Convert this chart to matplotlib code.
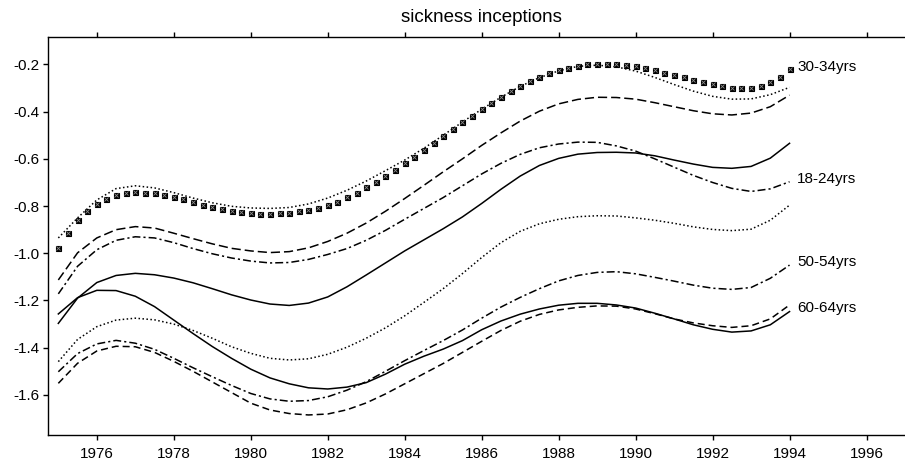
import matplotlib
matplotlib.use("Agg")
import matplotlib.pyplot as plt
import numpy as np

plt.rcParams['font.family'] = ['Liberation Sans', 'DejaVu Sans']

# quarterly points for the starred series, half-yearly for the curves
years_q = np.arange(1975.0, 1994.01, 0.25)
years_h = np.arange(1975.0, 1994.01, 0.5)

stars_30_34 = [-0.979, -0.913, -0.859, -0.821, -0.790, -0.769, -0.752, -0.743,
               -0.742, -0.743, -0.746, -0.754, -0.761, -0.771, -0.783, -0.794,
               -0.804, -0.814, -0.821, -0.826, -0.831, -0.832, -0.832, -0.831,
               -0.828, -0.822, -0.817, -0.808, -0.795, -0.781, -0.763, -0.743,
               -0.720, -0.698, -0.672, -0.646, -0.619, -0.591, -0.561, -0.531,
               -0.502, -0.475, -0.444, -0.417, -0.390, -0.363, -0.339, -0.314,
               -0.291, -0.271, -0.254, -0.237, -0.225, -0.215, -0.206, -0.199,
               -0.197, -0.197, -0.198, -0.202, -0.208, -0.216, -0.225, -0.235,
               -0.244, -0.254, -0.266, -0.275, -0.284, -0.292, -0.300, -0.301,
               -0.298, -0.291, -0.273, -0.252, -0.219]

dotted_upper = [-0.935, -0.850, -0.774, -0.726, -0.714, -0.723, -0.743, -0.766,
                -0.786, -0.801, -0.808, -0.810, -0.806, -0.791, -0.766, -0.733,
                -0.694, -0.650, -0.605, -0.555, -0.500, -0.444, -0.390, -0.339,
                -0.293, -0.256, -0.227, -0.208, -0.203, -0.210, -0.228, -0.255,
                -0.285, -0.313, -0.335, -0.347, -0.346, -0.328, -0.297]

dashed_upper = [-1.113, -0.998, -0.935, -0.900, -0.887, -0.893, -0.915, -0.938,
                -0.960, -0.979, -0.990, -0.997, -0.993, -0.977, -0.950, -0.915,
                -0.872, -0.822, -0.768, -0.712, -0.655, -0.600, -0.543, -0.490,
                -0.440, -0.398, -0.367, -0.348, -0.339, -0.340, -0.347, -0.362,
                -0.379, -0.396, -0.409, -0.414, -0.406, -0.379, -0.330]

dashdot_upper = [-1.172, -1.055, -0.985, -0.945, -0.930, -0.935, -0.955, -0.980,
                 -1.002, -1.020, -1.033, -1.041, -1.039, -1.026, -1.005, -0.980,
                 -0.945, -0.903, -0.856, -0.810, -0.764, -0.714, -0.664, -0.619,
                 -0.581, -0.553, -0.537, -0.529, -0.530, -0.545, -0.567, -0.600,
                 -0.635, -0.670, -0.700, -0.725, -0.738, -0.727, -0.697]

solid_upper = [-1.297, -1.190, -1.124, -1.094, -1.085, -1.091, -1.105, -1.125,
               -1.150, -1.176, -1.198, -1.215, -1.221, -1.211, -1.185, -1.142,
               -1.092, -1.041, -0.990, -0.943, -0.896, -0.846, -0.789, -0.729,
               -0.673, -0.628, -0.598, -0.580, -0.573, -0.572, -0.575, -0.587,
               -0.605, -0.622, -0.636, -0.640, -0.632, -0.597, -0.534]

dotted_lower = [-1.459, -1.365, -1.311, -1.283, -1.275, -1.282, -1.300, -1.327,
                -1.360, -1.396, -1.424, -1.445, -1.452, -1.447, -1.428, -1.398,
                -1.360, -1.316, -1.265, -1.208, -1.150, -1.086, -1.018, -0.955,
                -0.907, -0.875, -0.856, -0.845, -0.841, -0.842, -0.850, -0.860,
                -0.873, -0.888, -0.899, -0.904, -0.898, -0.860, -0.796]

dashdot_lower = [-1.502, -1.425, -1.384, -1.369, -1.381, -1.407, -1.445, -1.485,
                 -1.523, -1.560, -1.594, -1.617, -1.627, -1.624, -1.608, -1.580,
                 -1.544, -1.500, -1.455, -1.412, -1.370, -1.325, -1.275, -1.228,
                 -1.187, -1.150, -1.117, -1.094, -1.081, -1.078, -1.087, -1.102,
                 -1.118, -1.135, -1.148, -1.153, -1.145, -1.106, -1.050]

dashed_lower = [-1.551, -1.466, -1.414, -1.394, -1.396, -1.420, -1.458, -1.500,
                -1.545, -1.590, -1.635, -1.664, -1.679, -1.685, -1.681, -1.663,
                -1.634, -1.596, -1.553, -1.510, -1.467, -1.420, -1.373, -1.327,
                -1.288, -1.259, -1.240, -1.229, -1.223, -1.224, -1.236, -1.256,
                -1.278, -1.295, -1.307, -1.314, -1.307, -1.278, -1.219]

solid_lower = [-1.257, -1.188, -1.157, -1.158, -1.182, -1.226, -1.283, -1.340,
               -1.395, -1.445, -1.491, -1.528, -1.553, -1.570, -1.575, -1.567,
               -1.548, -1.512, -1.470, -1.436, -1.406, -1.370, -1.324, -1.287,
               -1.258, -1.236, -1.220, -1.212, -1.212, -1.219, -1.232, -1.254,
               -1.278, -1.303, -1.322, -1.334, -1.329, -1.303, -1.247]

end_labels = ['30-34yrs', '18-24yrs', '50-54yrs', '60-64yrs']
end_label_y = [-0.212, -0.686, -1.035, -1.233]

xticks = [1976, 1978, 1980, 1982, 1984, 1986, 1988, 1990, 1992, 1994, 1996]
yticks = [-0.2, -0.4, -0.6, -0.8, -1.0, -1.2, -1.4, -1.6]

fig = plt.figure(figsize=(9.05, 4.73), dpi=100)
ax = fig.add_axes([0.0534, 0.0803, 0.9466, 0.8408])

lw = 1.1
ax.plot(years_h, dotted_upper, color='black', lw=lw, ls=(0, (1, 1.6)))
ax.plot(years_h, dashed_upper, color='black', lw=lw, ls=(0, (6, 2.6)))
ax.plot(years_h, dashdot_upper, color='black', lw=lw, ls=(0, (5.2, 2.0, 1.4, 2.0)))
ax.plot(years_h, solid_upper, color='black', lw=lw, ls='-')
ax.plot(years_h, dotted_lower, color='black', lw=lw, ls=(0, (1, 1.6)))
ax.plot(years_h, dashdot_lower, color='black', lw=lw, ls=(0, (5.2, 2.0, 1.4, 2.0)))
ax.plot(years_h, dashed_lower, color='black', lw=lw, ls=(0, (4.6, 2.6)))
ax.plot(years_h, solid_lower, color='black', lw=lw, ls='-')

# boxed cross markers (dark square with a light cross)
ax.plot(years_q, stars_30_34, ls='none', marker='s', ms=3.6,
        mfc='black', mec='black', mew=0.8)
ax.plot(years_q, stars_30_34, ls='none', marker='x', ms=2.6,
        color='0.55', mew=0.6)

for lab, yy in zip(end_labels, end_label_y):
    ax.text(1994.2, yy, lab, fontsize=11, ha='left', va='center')

ax.set_xlim(1974.74, 1997.0)
ax.set_ylim(-1.77, -0.085)
ax.set_xticks(xticks)
ax.set_yticks(yticks)
ax.set_yticklabels([f'{v:.1f}' for v in yticks])
ax.tick_params(axis='both', direction='out', length=3.5, width=1.0,
               labelsize=11, color='black')
ax.tick_params(axis='x', top=True, pad=5)
ax.tick_params(axis='y', pad=3)
ax.spines['right'].set_visible(False)
for s in ['left', 'top', 'bottom']:
    ax.spines[s].set_linewidth(1.0)

fig.text(481 / 905, 1 - 18 / 473, 'sickness inceptions', fontsize=13.5,
         ha='center', va='center')

fig.savefig('out.png', dpi=100)
